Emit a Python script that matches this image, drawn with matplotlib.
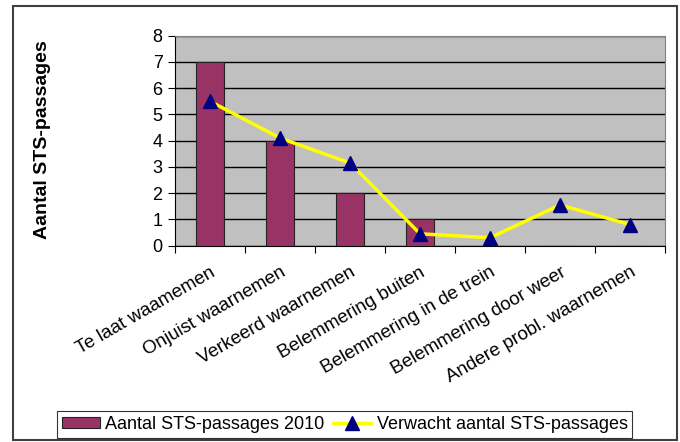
import matplotlib
matplotlib.use('Agg')
import matplotlib.pyplot as plt
from matplotlib.patches import Rectangle
import numpy as np

categories = ['Te laat waamemen', 'Onjuist waarnemen', 'Verkeerd waarnemen',
              'Belemmering buiten', 'Belemmering in de trein',
              'Belemmering door weer', 'Andere probl. waarnemen']
actual_2010 = [7, 4, 2, 1, 0, 0, 0]
expected = [5.5, 4.1, 3.15, 0.45, 0.3, 1.55, 0.8]

plt.rcParams['font.family'] = ['Liberation Sans', 'DejaVu Sans']

fig = plt.figure(figsize=(6.8, 4.42), dpi=100)
ax = fig.add_axes([0.2574, 0.4443, 0.7206, 0.4749])
ax.set_facecolor('#C0C0C0')

x = np.arange(len(categories))
bars = ax.bar(x, actual_2010, width=0.4, color='#993366', edgecolor='#222222',
              linewidth=0.8, zorder=3, label='Aantal STS-passages 2010')
line, = ax.plot(x, expected, color='#FFFF00', lw=2.5, marker='^', markersize=10,
                markerfacecolor='#000080', markeredgecolor='#000080', zorder=4,
                label='Verwacht aantal STS-passages')

ax.set_xlim(-0.5, len(categories) - 0.5)
ax.set_ylim(0, 8)
ax.set_yticks(range(0, 9))
ax.yaxis.grid(True, color='black', lw=1, zorder=1)
ax.set_axisbelow(True)

ax.set_xticks(np.arange(-0.5, len(categories)), minor=False)
ax.set_xticklabels([])
ax.set_xticks(x, minor=True)
ax.set_xticklabels(categories, minor=True, rotation=30, ha='right',
                   rotation_mode='anchor', fontsize=13.5)
ax.tick_params(axis='x', which='minor', length=0, pad=13)
ax.tick_params(axis='x', which='major', length=5, direction='out', color='black')
ax.tick_params(axis='y', length=5, direction='out', labelsize=13, pad=4)

for s in ['top', 'right']:
    ax.spines[s].set_color('#808080')
ax.spines['left'].set_color('black')
ax.spines['bottom'].set_color('black')

fig.text(0.062, 0.683, 'Aantal STS-passages', rotation=90, ha='center',
         va='center', fontsize=14, fontweight='bold')

leg = fig.legend([bars, line], ['Aantal STS-passages 2010', 'Verwacht aantal STS-passages'],
                 loc='center', bbox_to_anchor=(0.507, 0.0396), ncol=2,
                 fontsize=13, frameon=True, fancybox=False, handlelength=2.1,
                 handleheight=0.6, columnspacing=0.5, handletextpad=0.3,
                 borderpad=0.25)
leg.get_frame().set_edgecolor('black')
leg.get_frame().set_linewidth(0.8)

fig.patches.append(Rectangle((13 / 680, 0.004), 664 / 680, 0.982,
                             transform=fig.transFigure, fill=False,
                             edgecolor='#404040', lw=1.5))

fig.savefig('out.png', dpi=100)
